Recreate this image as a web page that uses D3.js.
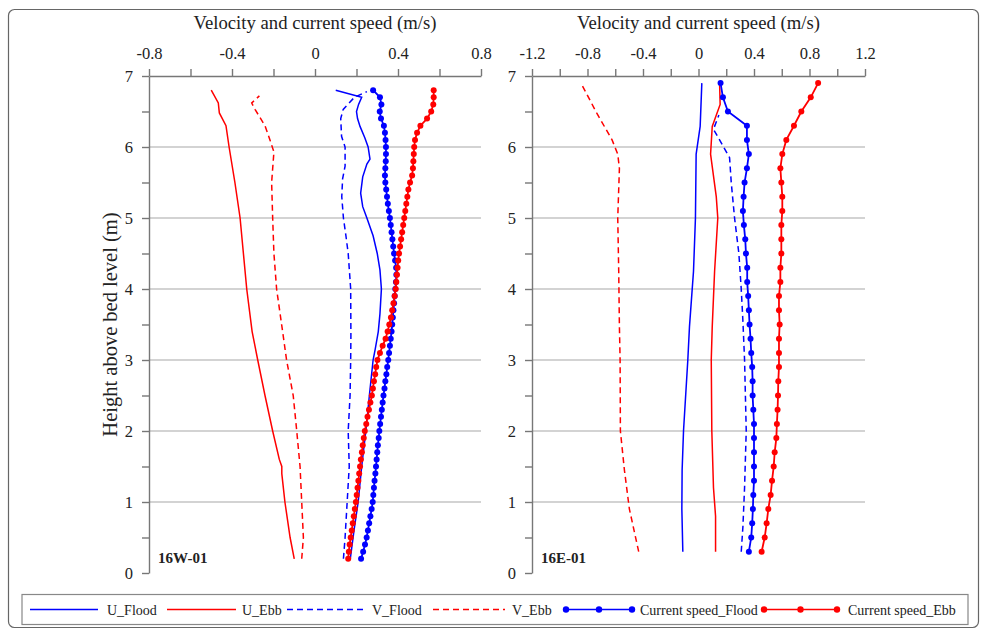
<!DOCTYPE html>
<html><head><meta charset="utf-8">
<script src="https://cdn.jsdelivr.net/npm/d3@7"></script>
<style>
body{margin:0;background:#fff}
text{font-family:"Liberation Serif","Times New Roman",serif;fill:#222}
</style>
</head><body>
<svg id="c" width="990" height="637"></svg>
<script>
// ---------- DATA ----------
const seriesNames = ["U_Flood","U_Ebb","V_Flood","V_Ebb","Current speed_Flood","Current speed_Ebb"];
const panelLabels = ["16W-01","16E-01"];
const xTitle = "Velocity and current speed (m/s)";
const yTitle = "Height above bed level (m)";
const xTicksLeft = [-0.8,-0.6,-0.4,-0.2,0,0.2,0.4,0.6,0.8];
const xTicksRight = [-1.2,-1.0,-0.8,-0.6,-0.4,-0.2,0,0.2,0.4,0.6,0.8,1.0,1.2];
const yTicks = [0,0.5,1,1.5,2,2.5,3,3.5,4,4.5,5,5.5,6,6.5,7];

// Panel 16W-01
const hLeft = [0.2,0.3,0.4,0.5,0.6,0.7,0.8,0.9,1.0,1.1,1.2,1.3,1.4,1.5,1.6,1.7,1.8,1.9,2.0,2.1,2.2,2.3,2.4,2.5,2.6,2.7,2.8,2.9,3.0,3.1,3.2,3.3,3.4,3.5,3.6,3.7,3.8,3.9,4.0,4.1,4.2,4.3,4.4,4.5,4.6,4.7,4.8,4.9,5.0,5.1,5.2,5.3,5.4,5.5,5.6,5.7,5.8,5.9,6.0,6.1,6.2,6.3,6.4,6.5,6.6,6.7,6.8];
const csEbbLeft = [0.160,0.163,0.167,0.172,0.177,0.182,0.187,0.192,0.197,0.201,
0.205,0.209,0.213,0.217,0.221,0.226,0.230,0.235,0.240,0.247,
0.253,0.260,0.267,0.274,0.279,0.284,0.290,0.295,0.301,0.313,
0.326,0.340,0.350,0.358,0.366,0.372,0.378,0.384,0.389,0.392,
0.395,0.398,0.401,0.405,0.410,0.415,0.420,0.425,0.430,0.435,
0.440,0.445,0.450,0.458,0.468,0.472,0.474,0.476,0.478,0.482,
0.492,0.508,0.540,0.560,0.570,0.572,0.572];
const csFloodLeft = [0.222,0.232,0.241,0.249,0.255,0.261,0.267,0.273,0.278,0.281,
0.284,0.287,0.291,0.294,0.297,0.300,0.303,0.307,0.310,0.314,
0.318,0.322,0.326,0.330,0.335,0.339,0.344,0.348,0.353,0.357,
0.361,0.365,0.369,0.372,0.375,0.378,0.381,0.384,0.387,0.390,
0.392,0.391,0.386,0.381,0.377,0.373,0.369,0.365,0.361,0.356,
0.351,0.347,0.343,0.339,0.337,0.339,0.341,0.342,0.342,0.340,
0.337,0.332,0.318,0.312,0.320,0.313,0.280];
const uFloodLeftH = [0.2,0.6,1.0,1.5,2.0,2.5,3.0,3.15,3.4,3.65,4.0,4.27,4.5,4.75,5.0,5.16,5.35,5.58,5.76,5.83,6.0,6.13,6.29,6.4,6.5,6.6,6.7,6.8];
const uFloodLeft = [0.17,0.188,0.208,0.225,0.245,0.262,0.28,0.29,0.305,0.313,0.32,0.313,0.30,0.28,0.25,0.23,0.22,0.23,0.25,0.265,0.256,0.24,0.217,0.205,0.20,0.21,0.225,0.10];
const vFloodLeftH = [0.2,0.5,1.0,1.5,2.0,2.5,3.0,3.35,4.0,4.5,4.75,5.0,5.3,5.55,5.73,6.0,6.15,6.4,6.53,6.7,6.78];
const vFloodLeft = [0.137,0.145,0.155,0.165,0.16,0.169,0.172,0.173,0.172,0.16,0.149,0.137,0.129,0.133,0.145,0.145,0.128,0.124,0.136,0.19,0.25];
const uEbbLeftH = [0.2,0.5,1.0,1.4,1.5,1.6,2.0,2.5,3.0,3.4,4.0,4.5,5.0,5.5,6.0,6.3,6.48,6.62,6.8];
const uEbbLeft = [-0.10,-0.12,-0.145,-0.16,-0.16,-0.172,-0.204,-0.241,-0.276,-0.303,-0.329,-0.345,-0.361,-0.386,-0.414,-0.429,-0.461,-0.466,-0.50];
const vEbbLeftH = [0.2,0.5,1.0,1.5,2.0,2.5,3.0,3.4,4.0,4.5,5.0,5.5,5.93,6.1,6.3,6.53,6.62,6.72];
const vEbbLeft = [-0.064,-0.056,-0.064,-0.072,-0.088,-0.105,-0.137,-0.156,-0.185,-0.198,-0.204,-0.209,-0.198,-0.217,-0.241,-0.289,-0.305,-0.268];

// Panel 16E-01
const hRight = [0.3,0.5,0.7,0.9,1.1,1.3,1.5,1.7,1.9,2.1,2.3,2.5,2.7,2.9,3.1,3.3,3.5,3.7,3.9,4.1,4.3,4.5,4.7,4.9,5.1,5.3,5.5,5.7,5.9,6.1,6.3,6.5,6.7,6.9];
const csEbbRight = [0.455,0.477,0.491,0.503,0.520,0.530,0.542,0.549,0.561,0.565,0.570,0.573,0.575,0.580,0.580,0.580,0.585,0.580,0.580,0.590,0.590,0.597,0.597,0.597,0.604,0.604,0.597,0.590,0.604,0.633,0.688,0.741,0.809,0.862];
const csFloodRight = [0.363,0.380,0.387,0.392,0.395,0.400,0.400,0.400,0.400,0.400,0.395,0.390,0.390,0.387,0.380,0.375,0.368,0.363,0.358,0.351,0.351,0.342,0.337,0.327,0.320,0.325,0.332,0.349,0.363,0.349,0.349,0.212,0.176,0.159];
const uFloodRightH = [0.3,0.9,1.45,2.0,3.0,3.47,4.25,5.0,5.9,6.29,6.9];
const uFloodRight = [-0.113,-0.12,-0.118,-0.108,-0.077,-0.065,-0.036,-0.022,-0.017,0.012,0.024];
const uEbbRightH = [0.3,0.8,1.2,2.0,3.0,3.47,4.25,5.0,5.3,5.9,6.29,6.6,6.9];
const uEbbRight = [0.123,0.123,0.108,0.096,0.092,0.099,0.116,0.139,0.128,0.087,0.099,0.156,0.152];
const vFloodRightH = [0.3,0.65,1.2,2.0,3.0,3.55,4.0,4.5,5.0,5.5,5.85,6.25,6.45];
const vFloodRight = [0.308,0.32,0.332,0.344,0.332,0.32,0.308,0.291,0.26,0.236,0.224,0.108,0.147];
const vEbbRightH = [0.3,0.9,1.45,2.0,3.0,3.47,4.25,5.0,5.7,5.9,6.1,6.48,6.9];
const vEbbRight = [-0.431,-0.498,-0.534,-0.563,-0.565,-0.57,-0.575,-0.582,-0.57,-0.582,-0.623,-0.734,-0.847];

// ---------- DRAW ----------
const BLUE = "#0000ff", RED = "#ff0000";
const FONT = "'Liberation Serif','Times New Roman',serif";
const svg = d3.select("#c");
svg.append("rect").attr("x",8.5).attr("y",9.5).attr("width",970).attr("height",618)
  .attr("rx",6).attr("fill","#fff").attr("stroke","#666").attr("stroke-width",1.2);

const y = d3.scaleLinear().domain([0,7]).range([573,76]);
const zip = (hs, vs) => hs.map((h,i)=>({h, v: vs[i]}));

const panels = [
  {domain:[-0.8,0.8], range:[149,481], ticks:xTicksLeft, label:panelLabels[0],
   lines:[[uFloodLeftH,uFloodLeft,BLUE,null],[uEbbLeftH,uEbbLeft,RED,null],[vFloodLeftH,vFloodLeft,BLUE,"6,4"],[vEbbLeftH,vEbbLeft,RED,"6,4"]],
   dots:[[hLeft,csFloodLeft,BLUE],[hLeft,csEbbLeft,RED]]},
  {domain:[-1.2,1.2], range:[532,865], ticks:xTicksRight, label:panelLabels[1],
   lines:[[uFloodRightH,uFloodRight,BLUE,null],[uEbbRightH,uEbbRight,RED,null],[vFloodRightH,vFloodRight,BLUE,"6,4"],[vEbbRightH,vEbbRight,RED,"6,4"]],
   dots:[[hRight,csFloodRight,BLUE],[hRight,csEbbRight,RED]]}
];

const fmtX = v => (Math.round(Math.abs(v)*10) % 4 === 0) ? String(+v.toFixed(1)) : "";
const fmtY = v => Number.isInteger(v) ? String(v) : "";

panels.forEach((p, pi) => {
  const x = d3.scaleLinear().domain(p.domain).range(p.range);
  const g = svg.append("g");
  // grid
  g.selectAll("line.grid").data([1,2,3,4,5,6]).join("line")
    .attr("x1",p.range[0]).attr("x2",p.range[1])
    .attr("y1",d=>y(d)).attr("y2",d=>y(d))
    .attr("stroke","#c4c4c4").attr("stroke-width",1.4);
  // x axis top
  const ax = g.append("g").attr("transform",`translate(0,${y(7)})`)
    .call(d3.axisTop(x).tickValues(p.ticks).tickFormat(fmtX).tickSize(7).tickSizeOuter(0));
  ax.attr("font-family",FONT);
  ax.selectAll("text").attr("font-size",16.5).attr("dy","-0.4em").style("font-family",FONT).attr("fill","#222");
  // y axis
  const ay = g.append("g").attr("transform",`translate(${p.range[0]},0)`)
    .call(d3.axisLeft(y).tickValues(yTicks).tickFormat(fmtY).tickSize(7).tickSizeOuter(0));
  ay.attr("font-family",FONT);
  ay.selectAll("text").attr("font-size",16.5).attr("x",-16).style("font-family",FONT).attr("fill","#222");
  [ax,ay].forEach(a=>{ a.selectAll("path,line").attr("stroke","#777").attr("stroke-width",1.4); });
  // title
  g.append("text").attr("x",(p.range[0]+p.range[1])/2).attr("y",29)
    .attr("text-anchor","middle").attr("font-size",18.7).text(xTitle);
  // panel label
  g.append("text").attr("x",p.range[0]+9).attr("y",563)
    .attr("font-size",15).attr("font-weight","bold").text(p.label);
  // lines
  const line = d3.line().x(d=>x(d.v)).y(d=>y(d.h));
  p.lines.forEach(([hs,vs,col,dash])=>{
    g.append("path").datum(zip(hs,vs)).attr("d",line).attr("fill","none")
      .attr("stroke",col).attr("stroke-width",1.5).attr("stroke-dasharray",dash);
  });
  p.dots.forEach(([hs,vs,col])=>{
    const data = zip(hs,vs);
    g.append("path").datum(data).attr("d",line).attr("fill","none")
      .attr("stroke",col).attr("stroke-width",1.8);
    g.selectAll(null).data(data).join("circle")
      .attr("cx",d=>x(d.v)).attr("cy",d=>y(d.h)).attr("r",3).attr("fill",col);
  });
});

// y title
svg.append("text").attr("transform",`translate(117,${(y(0)+y(7))/2}) rotate(-90)`)
  .attr("text-anchor","middle").attr("font-size",20.5).text(yTitle);

// legend
svg.append("rect").attr("x",22).attr("y",594.5).attr("width",946).attr("height",30)
  .attr("fill","#fff").attr("stroke","#888").attr("stroke-width",1.2);
const legendItems = [
  {name:seriesNames[0], col:BLUE, dash:null, dots:false, x0:30, x1:98, tx:107},
  {name:seriesNames[1], col:RED, dash:null, dots:false, x0:167, x1:236, tx:242},
  {name:seriesNames[2], col:BLUE, dash:"6,4", dots:false, x0:287, x1:364, tx:372},
  {name:seriesNames[3], col:RED, dash:"6,4", dots:false, x0:433, x1:505, tx:512},
  {name:seriesNames[4], col:BLUE, dash:null, dots:true, x0:566, x1:632, tx:640},
  {name:seriesNames[5], col:RED, dash:null, dots:true, x0:764, x1:837, tx:848}
];
const lg = svg.append("g");
legendItems.forEach(it=>{
  lg.append("line").attr("x1",it.x0).attr("x2",it.x1).attr("y1",609.5).attr("y2",609.5)
    .attr("stroke",it.col).attr("stroke-width",1.6).attr("stroke-dasharray",it.dash);
  if (it.dots) {
    [it.x0,(it.x0+it.x1)/2,it.x1].forEach(cx=>{
      lg.append("circle").attr("cx",cx).attr("cy",609.5).attr("r",3.2).attr("fill",it.col);
    });
  }
  lg.append("text").attr("x",it.tx).attr("y",614.5).attr("font-size",14).text(it.name);
});
</script>
</body></html>
